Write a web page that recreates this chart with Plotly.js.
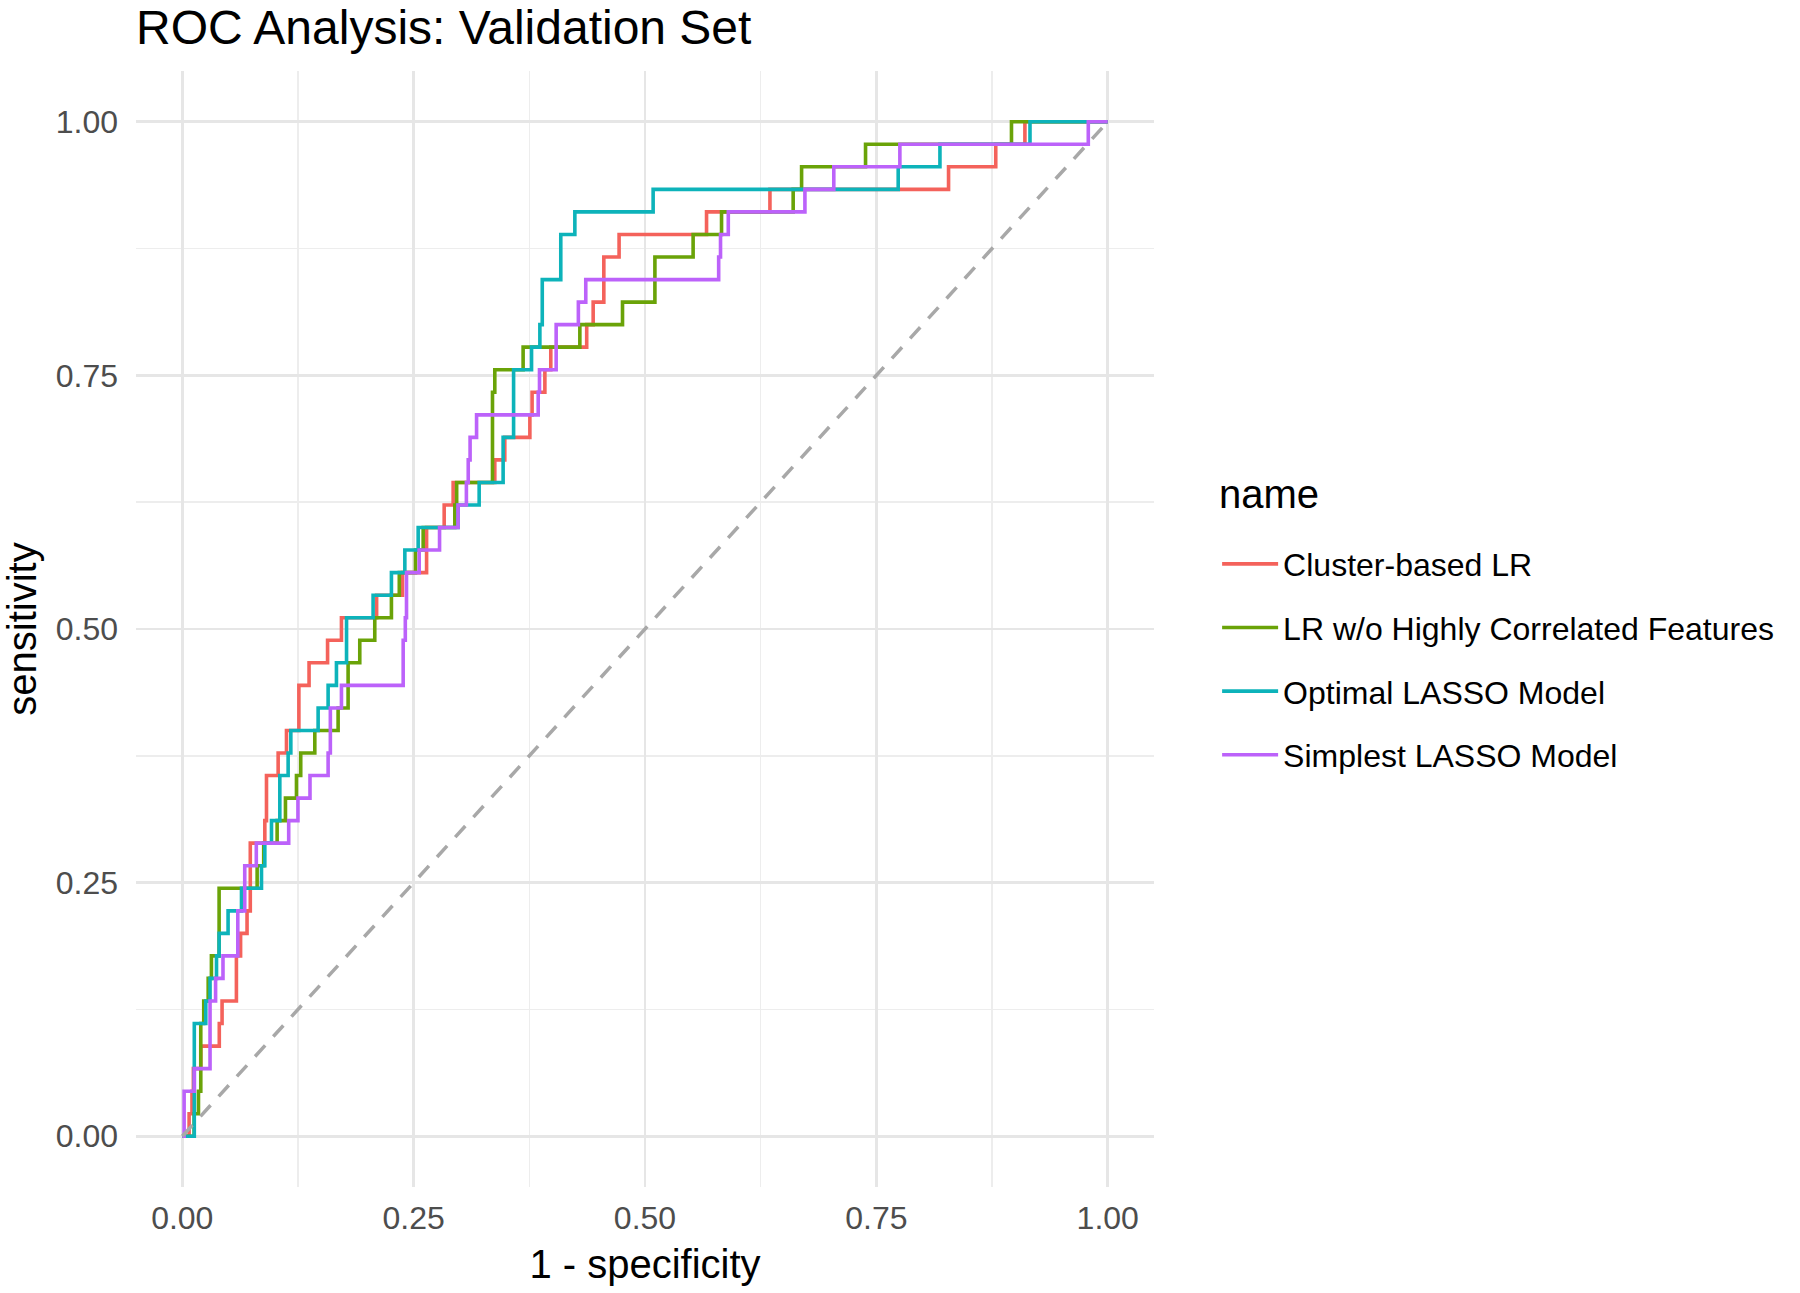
<!DOCTYPE html>
<html>
<head>
<meta charset="utf-8">
<script src="https://cdn.plot.ly/plotly-3.0.1.min.js"></script>
<style>
  html, body { margin: 0; padding: 0; background: #ffffff; }
  #chart { width: 1800px; height: 1293px; }
</style>
</head>
<body>
<div id="chart"></div>
<script>
// ROC curve breakpoints: fpr = 1 - specificity where sensitivity jumps, tpr = sensitivity after the jump
const modelNames = [
  "Cluster-based LR",
  "LR w/o Highly Correlated Features",
  "Optimal LASSO Model",
  "Simplest LASSO Model"
];
const legendTitle = "name";

const clusterFpr = [0, 0.0074, 0.0105, 0.012, 0.020, 0.040, 0.043, 0.0585, 0.063, 0.070, 0.0735, 0.0892, 0.091, 0.1036, 0.1126, 0.126, 0.137, 0.157, 0.172, 0.210, 0.238, 0.264, 0.283, 0.2927, 0.3377, 0.3485, 0.3756, 0.378, 0.3918, 0.3982, 0.437, 0.444, 0.4555, 0.472, 0.5665, 0.635, 0.828, 0.879, 0.9105, 1];
const clusterTpr = [0, 0.0222, 0.0444, 0.0667, 0.0889, 0.1111, 0.1333, 0.1778, 0.2, 0.2222, 0.2889, 0.3111, 0.3556, 0.3778, 0.4, 0.4444, 0.4667, 0.4889, 0.5111, 0.5333, 0.5556, 0.6, 0.6222, 0.6444, 0.6667, 0.6889, 0.7111, 0.7333, 0.7556, 0.7778, 0.8, 0.8222, 0.8667, 0.8889, 0.9111, 0.9333, 0.9556, 0.9778, 1, 1];

const lrNoCorrFpr = [0, 0.0128, 0.0175, 0.020, 0.0232, 0.028, 0.0315, 0.0398, 0.0809, 0.088, 0.1025, 0.1115, 0.1234, 0.128, 0.1432, 0.1684, 0.1792, 0.1918, 0.208, 0.226, 0.2345, 0.252, 0.2603, 0.2945, 0.2965, 0.3352, 0.3377, 0.3683, 0.4296, 0.4757, 0.5107, 0.552, 0.5827, 0.6601, 0.6692, 0.7383, 0.896, 1];
const lrNoCorrTpr = [0, 0.0222, 0.0444, 0.1111, 0.1333, 0.1556, 0.1778, 0.2444, 0.2667, 0.2889, 0.3111, 0.3333, 0.3556, 0.3778, 0.4, 0.4222, 0.4667, 0.4889, 0.5111, 0.5333, 0.5556, 0.5778, 0.6, 0.6222, 0.6444, 0.7333, 0.7556, 0.7778, 0.8, 0.8222, 0.8667, 0.8889, 0.9111, 0.9333, 0.9556, 0.9778, 1, 1];

const optimalFpr = [0, 0.013, 0.0254, 0.030, 0.037, 0.0398, 0.0495, 0.064, 0.0856, 0.0892, 0.0964, 0.1054, 0.1144, 0.1173, 0.1468, 0.1576, 0.1666, 0.1775, 0.2062, 0.226, 0.2405, 0.2549, 0.298, 0.3208, 0.3467, 0.358, 0.3774, 0.3864, 0.389, 0.409, 0.4242, 0.5088, 0.7736, 0.8187, 0.916, 1];
const optimalTpr = [0, 0.1111, 0.1333, 0.1556, 0.1778, 0.2, 0.2222, 0.2444, 0.2667, 0.2889, 0.3111, 0.3556, 0.3778, 0.4, 0.4222, 0.4444, 0.4667, 0.5111, 0.5333, 0.5556, 0.5778, 0.6, 0.6222, 0.6444, 0.6889, 0.7556, 0.7778, 0.8, 0.8444, 0.8889, 0.9111, 0.9333, 0.9556, 0.9778, 1, 1];

const simplestFpr = [0, 0.002, 0.013, 0.030, 0.036, 0.044, 0.060, 0.0675, 0.080, 0.115, 0.125, 0.138, 0.1576, 0.160, 0.172, 0.2387, 0.241, 0.2423, 0.256, 0.278, 0.298, 0.307, 0.309, 0.311, 0.318, 0.3846, 0.386, 0.404, 0.428, 0.436, 0.5796, 0.5816, 0.590, 0.6728, 0.704, 0.7754, 0.979, 1];
const simplestTpr = [0, 0.0444, 0.0667, 0.1333, 0.1556, 0.1778, 0.2222, 0.2667, 0.2889, 0.3111, 0.3333, 0.3556, 0.3778, 0.4222, 0.4444, 0.4889, 0.5111, 0.5556, 0.5778, 0.6, 0.6222, 0.6444, 0.6667, 0.6889, 0.7111, 0.7333, 0.7556, 0.8, 0.8222, 0.8444, 0.8667, 0.8889, 0.9111, 0.9333, 0.9556, 0.9778, 1, 1];

const chanceX = [0, 1];
const chanceY = [0, 1];

const tickVals = [0, 0.25, 0.5, 0.75, 1];
const tickText = ["0.00", "0.25", "0.50", "0.75", "1.00"];

const colors = ["#F4625B", "#6AA308", "#0DB3BA", "#BC62FA"];

const series = [
  [clusterFpr, clusterTpr],
  [lrNoCorrFpr, lrNoCorrTpr],
  [optimalFpr, optimalTpr],
  [simplestFpr, simplestTpr]
];

const FONT = "Liberation Sans, Arial, Helvetica, sans-serif";

const traces = series.map((s, i) => ({
  type: "scatter",
  mode: "lines",
  x: s[0],
  y: s[1],
  name: modelNames[i],
  legendgroup: "g" + i,
  line: { color: colors[i], width: 3.6, shape: "hv" },
  hoverinfo: "skip"
}));

traces.push({
  type: "scatter",
  mode: "lines",
  x: chanceX,
  y: chanceY,
  showlegend: false,
  line: { color: "#A8A8A8", width: 3.5, dash: "15px,12px" },
  hoverinfo: "skip"
});

const axisCommon = {
  range: [-0.05, 1.05],
  tickvals: tickVals,
  ticktext: tickText,
  ticks: "",
  showline: false,
  zeroline: false,
  showgrid: true,
  gridcolor: "#E6E6E6",
  gridwidth: 2.8,
  minor: { tick0: 0, dtick: 0.125, showgrid: true, gridcolor: "#EDEDED", gridwidth: 1.5 },
  tickfont: { family: FONT, size: 32, color: "#4D4D4D" },
  fixedrange: true
};

const layout = {
  width: 1800,
  height: 1293,
  paper_bgcolor: "#ffffff",
  plot_bgcolor: "#ffffff",
  margin: { l: 136, r: 646, t: 71, b: 106, pad: 0 },
  font: { family: FONT, color: "#000000" },
  title: {
    text: "ROC Analysis: Validation Set",
    font: { family: FONT, size: 48, color: "#000000" },
    xref: "paper", x: 0, xanchor: "left",
    yref: "container", y: 1 - 27 / 1293, yanchor: "middle"
  },
  xaxis: Object.assign({}, axisCommon, {
    ticklabelstandoff: 9,
    title: { text: "1 - specificity", font: { family: FONT, size: 40, color: "#000000" }, standoff: 14 }
  }),
  yaxis: Object.assign({}, axisCommon, {
    ticklabelstandoff: 17,
    title: { text: "sensitivity", font: { family: FONT, size: 40, color: "#000000" }, standoff: 17 }
  }),
  showlegend: true,
  legend: {
    x: 1.062, xanchor: "left",
    y: 0.4726, yanchor: "middle",
    bgcolor: "rgba(0,0,0,0)",
    font: { family: FONT, size: 32, color: "#000000" },
    traceorder: "grouped",
    tracegroupgap: 19,
    itemwidth: 56
  },
  annotations: [{
    text: legendTitle,
    xref: "paper", yref: "paper",
    x: (1217 - 136) / 1018, xanchor: "left",
    y: (1187 - 494) / 1116, yanchor: "middle",
    showarrow: false,
    font: { family: FONT, size: 40, color: "#000000" }
  }]
};

Plotly.newPlot("chart", traces, layout, { displayModeBar: false, staticPlot: true });
</script>
</body>
</html>
